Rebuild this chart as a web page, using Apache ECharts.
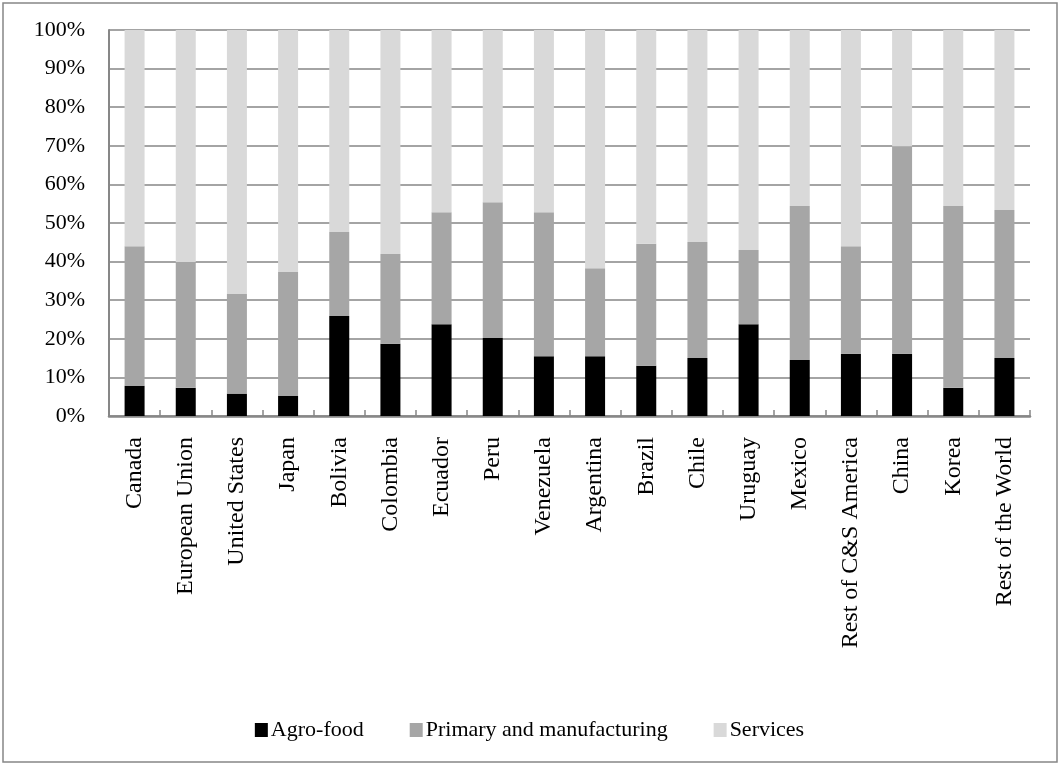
<!DOCTYPE html>
<html>
<head>
<meta charset="utf-8">
<script src="https://cdn.jsdelivr.net/npm/echarts@6/dist/echarts.min.js"></script>
<style>
	html, body { margin: 0; padding: 0; background: #ffffff; }
	#chart { width: 1059px; height: 765px; }
</style>
</head>
<body>
<div id="chart"></div>
<script>
const categories = [
	'Canada', 'European Union', 'United States', 'Japan', 'Bolivia', 'Colombia',
	'Ecuador', 'Peru', 'Venezuela', 'Argentina', 'Brazil', 'Chile', 'Uruguay',
	'Mexico', 'Rest of C&S America', 'China', 'Korea', 'Rest of the World'
];

const agroFood = [7.8, 7.3, 5.8, 5.2, 25.9, 18.7, 23.8, 20.2, 15.5, 15.5, 13.0, 15.0, 23.8, 14.5, 16.1, 16.1, 7.3, 15.0];
const primaryManufacturing = [36.2, 32.6, 25.8, 32.1, 21.8, 23.3, 29.0, 35.2, 37.3, 22.8, 31.6, 30.1, 19.2, 39.9, 27.9, 53.8, 47.1, 38.4];
const services = [56.0, 60.1, 68.4, 62.7, 52.3, 58.0, 47.2, 44.6, 47.2, 61.7, 55.4, 54.9, 57.0, 45.6, 56.0, 30.1, 45.6, 46.6];

const colors = {
	agro: '#000000',
	primary: '#a6a6a6',
	services: '#d9d9d9',
	grid: '#868686',
	axis: '#878787',
	text: '#000000'
};

const font = 'Liberation Serif';

const chart = echarts.init(document.querySelector('#chart'), null, { renderer: 'canvas' });

function barSeries(name, data, color) {
	return {
		name,
		type: 'bar',
		stack: 'total',
		barWidth: 20,
		data,
		itemStyle: { color },
		emphasis: { disabled: true }
	};
}

const option = {
	animation: false,
	backgroundColor: '#ffffff',

	graphic: [
		{
			type: 'rect',
			shape: { x: 3, y: 3, width: 1054, height: 759 },
			style: { fill: 'none', stroke: colors.axis, lineWidth: 1.5 },
			silent: true
		}
	],

	grid: {
		left: 109,
		right: 29,
		top: 30,
		bottom: 349
	},

	legend: {
		left: 'center',
		top: 714,
		itemWidth: 13,
		itemHeight: 14,
		itemGap: 46,
		icon: 'rect',
		textStyle: {
			fontFamily: font,
			fontSize: 22,
			color: colors.text,
			padding: [0, 0, 0, -2]
		},
		data: ['Agro-food', 'Primary and manufacturing', 'Services']
	},

	xAxis: {
		type: 'category',
		data: categories,
		axisLine: { lineStyle: { color: colors.axis, width: 2.5 } },
		axisTick: {
			show: true,
			inside: true,
			length: 6,
			lineStyle: { color: colors.axis, width: 1.5 }
		},
		axisLabel: {
			rotate: 90,
			margin: 21,
			fontFamily: font,
			fontSize: 24,
			color: colors.text,
			interval: 0
		}
	},

	yAxis: {
		type: 'value',
		min: 0,
		max: 100,
		interval: 10,
		axisLine: { show: true, lineStyle: { color: colors.axis, width: 2 } },
		axisTick: { show: false },
		splitLine: { lineStyle: { color: colors.grid, width: 1.5 } },
		axisLabel: {
			formatter: '{value}%',
			margin: 24,
			fontFamily: font,
			fontSize: 22,
			color: colors.text
		}
	},

	series: [
		barSeries('Agro-food', agroFood, colors.agro),
		barSeries('Primary and manufacturing', primaryManufacturing, colors.primary),
		barSeries('Services', services, colors.services)
	]
};

chart.setOption(option);
</script>
</body>
</html>
